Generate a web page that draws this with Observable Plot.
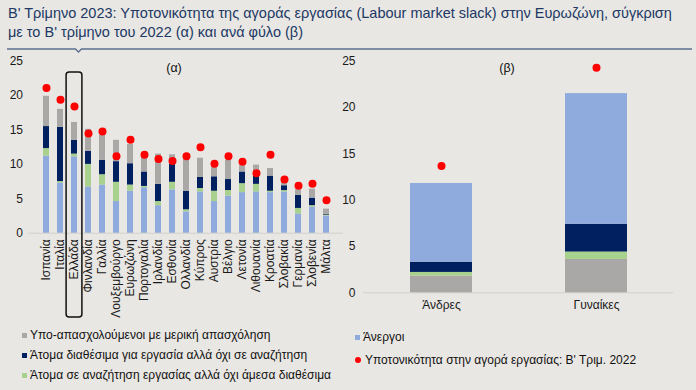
<!DOCTYPE html>
<html><head><meta charset="utf-8">
<script src="https://cdn.jsdelivr.net/npm/d3@7"></script>
<script src="https://cdn.jsdelivr.net/npm/@observablehq/plot@0.6"></script>
<style>
body{margin:0;background:#e9e7e3;font-family:"Liberation Sans",Arial,sans-serif;}
#wrap{position:relative;width:696px;height:390px;overflow:hidden;background:#e9e7e3;}
#title{position:absolute;left:8px;top:4px;font-size:14.5px;line-height:18.5px;color:#203864;white-space:nowrap;}
#deco{position:absolute;left:0;top:0;}
#left{position:absolute;left:0;top:50px;}
#right{position:absolute;left:330px;top:50px;}
.panel{position:absolute;font-size:12.5px;color:#111;transform:translate(-50%,-50%);}
.leg{position:absolute;font-size:12px;color:#111;white-space:nowrap;display:flex;align-items:center;}
.sw{display:inline-block;width:5px;height:5px;margin-right:3px;}
.dotsw{display:inline-block;width:6px;height:6px;border-radius:50%;margin-right:4px;background:#ff0000;}
</style></head><body>
<div id="wrap">
<div id="title">Β' Τρίμηνο 2023: Υποτονικότητα της αγοράς εργασίας (Labour market slack) στην Ευρωζώνη, σύγκριση<br>με το Β' τρίμηνο του 2022 (α) και ανά φύλο (β)</div>
<svg id="deco" width="696" height="60"><path d="M7,49 H75.5 l3,3 l3,-3 H692" fill="none" stroke="#5b7090" stroke-width="1.3"/></svg>
<div id="left"></div>
<div id="right"></div>
<div class="panel" style="left:174px;top:68px;">(α)</div>
<div class="panel" style="left:507px;top:68px;">(β)</div>
<div id="legend"></div>
</div>
<script>
// ---- Data (a): by country, Q2 2023, % ----
const countries = ["Ισπανία","Ιταλία","Ελλάδα","Φινλανδία","Γαλλία","Λουξεμβούργο","Ευρωζώνη","Πορτογαλία","Ιρλανδία","Εσθονία","Ολλανδία","Κύπρος","Αυστρία","Βέλγιο","Λετονία","Λιθουανία","Κροατία","Σλοβακία","Γερμανία","Σλοβενία","Μάλτα"];
const unemployed          = [11.2, 7.3, 11.1, 6.7, 7.0, 4.6, 6.1, 6.6, 4.0, 6.3, 3.1, 6.0, 4.6, 5.4, 5.9, 6.0, 5.9, 6.0, 2.8, 3.8, 2.5];
const seekingNotAvailable = [1.1, 0.2, 0.4, 3.3, 1.5, 2.8, 0.9, 0.2, 0.6, 1.1, 0.3, 0.5, 1.5, 0.8, 1.3, 1.1, 0.2, 0.2, 0.8, 0.2, 0.1];
const availableNotSeeking = [3.2, 7.9, 2.0, 1.9, 2.1, 3.0, 3.1, 2.1, 2.5, 2.6, 2.7, 1.6, 2.1, 1.6, 1.7, 1.2, 2.2, 0.7, 1.9, 1.1, 0.1];
const underemployedPT     = [4.4, 2.6, 2.6, 3.2, 3.6, 3.1, 2.8, 2.2, 4.4, 1.4, 4.7, 2.8, 1.4, 2.8, 0.9, 1.6, 1.1, 0.6, 0.8, 1.3, 0.8];
const slack2022           = [21.1, 19.4, 18.4, 14.5, 14.8, 11.2, 13.6, 11.4, 10.8, 10.5, 11.2, 12.5, 10.1, 11.2, 10.4, 8.7, 11.4, 7.8, 6.9, 7.2, 4.8];

// ---- Data (b): by sex ----
const sexes = ["Άνδρες","Γυναίκες"];
const sexUnderemployedPT     = [1.8, 3.6];
const sexSeekingNotAvailable = [0.4, 0.8];
const sexAvailableNotSeeking = [1.1, 3.0];
const sexUnemployed          = [8.5, 14.1];
const sexSlack2022           = [13.7, 24.3];

// ---- Series labels & colours ----
const S_UNDER = "Υπο-απασχολούμενοι με μερική απασχόληση";
const S_AVAIL = "Άτομα διαθέσιμα για εργασία αλλά όχι σε αναζήτηση";
const S_SEEK  = "Άτομα σε αναζήτηση εργασίας αλλά όχι άμεσα διαθέσιμα";
const S_UNEMP = "Άνεργοι";
const S_DOT   = "Υποτονικότητα στην αγορά εργασίας: Β' Τριμ. 2022";
const seriesNames = [S_UNDER, S_AVAIL, S_SEEK, S_UNEMP];
const seriesColors = ["#a9a8a6", "#002060", "#a9d18e", "#8faadc"];
const highlightCountry = "Ελλάδα";
const yTicks = [0, 5, 10, 15, 20, 25];

const font = '"Liberation Sans", Arial, sans-serif';

// long rows, left: stacked bottom-up unemployed, seeking, available, underemployed
const rowsA = [];
countries.forEach((c, i) => {
  rowsA.push({x: c, s: S_UNEMP, v: unemployed[i]});
  rowsA.push({x: c, s: S_SEEK, v: seekingNotAvailable[i]});
  rowsA.push({x: c, s: S_AVAIL, v: availableNotSeeking[i]});
  rowsA.push({x: c, s: S_UNDER, v: underemployedPT[i]});
});
const dotsA = countries.map((c, i) => ({x: c, v: slack2022[i]}));

// right: bottom-up underemployed, seeking, available, unemployed
const rowsB = [];
sexes.forEach((c, i) => {
  rowsB.push({x: c, s: S_UNDER, v: sexUnderemployedPT[i]});
  rowsB.push({x: c, s: S_SEEK, v: sexSeekingNotAvailable[i]});
  rowsB.push({x: c, s: S_AVAIL, v: sexAvailableNotSeeking[i]});
  rowsB.push({x: c, s: S_UNEMP, v: sexUnemployed[i]});
});
const dotsB = sexes.map((c, i) => ({x: c, v: sexSlack2022[i]}));

const color = {domain: seriesNames, range: seriesColors};
const style = {background: "transparent", fontSize: "12px", fontFamily: font, color: "#1a1a1a", overflow: "visible"};

const left = Plot.plot({
  width: 343, height: 275,
  marginLeft: 28.5, marginRight: 0, marginTop: 10.7, marginBottom: 92.3,
  style,
  x: {domain: countries, paddingInner: 0.57, paddingOuter: 0.5, label: null},
  y: {domain: [0, 25], label: null},
  color,
  marks: [
    Plot.ruleY([0], {stroke: "#d2d0cc"}),
    Plot.barY(rowsA, {x: "x", y: "v", fill: "s"}),
    Plot.dot(dotsA, {x: "x", y: "v", fill: "#ff0000", r: 4}),
    Plot.barY([{x: highlightCountry}], {x: "x", y1: -12.25, y2: 23.35, fill: "none", stroke: "#111", strokeWidth: 1.5, rx: 3, insetLeft: -4.9, insetRight: -4.9}),
    Plot.axisY({ticks: yTicks, tickSize: 0, tickPadding: 6, label: null}),
    Plot.axisX({tickSize: 0, tickPadding: 6, tickRotate: -90, label: null})
  ]
});
document.getElementById("left").appendChild(left);

const right = Plot.plot({
  width: 366, height: 270,
  marginLeft: 33, marginRight: 23, marginTop: 10.7, marginBottom: 27.7,
  style,
  x: {domain: sexes, paddingInner: 0.6, paddingOuter: 0.3, label: null},
  y: {domain: [0, 25], label: null},
  color,
  marks: [
    Plot.ruleY([0], {stroke: "#d2d0cc"}),
    Plot.barY(rowsB, {x: "x", y: "v", fill: "s"}),
    Plot.dot(dotsB, {x: "x", y: "v", fill: "#ff0000", r: 4}),
    Plot.axisY({ticks: yTicks, tickSize: 0, tickPadding: 8, label: null}),
    Plot.axisX({tickSize: 0, tickPadding: 8, label: null})
  ]
});
document.getElementById("right").appendChild(right);

// legend
const legendItems = [
  {label: S_UNDER, color: seriesColors[0], left: 22, top: 336},
  {label: S_AVAIL, color: seriesColors[1], left: 22, top: 356},
  {label: S_SEEK, color: seriesColors[2], left: 22, top: 376},
  {label: S_UNEMP, color: seriesColors[3], left: 355, top: 338},
  {label: S_DOT, dot: true, left: 355, top: 361}
];
const leg = document.getElementById("legend");
legendItems.forEach(it => {
  const d = document.createElement("div");
  d.className = "leg";
  d.style.left = it.left + "px";
  d.style.top = (it.top - 8) + "px";
  const sw = document.createElement("span");
  if (it.dot) sw.className = "dotsw"; else { sw.className = "sw"; sw.style.background = it.color; }
  d.appendChild(sw);
  d.appendChild(document.createTextNode(it.label));
  leg.appendChild(d);
});
</script>
</body></html>
